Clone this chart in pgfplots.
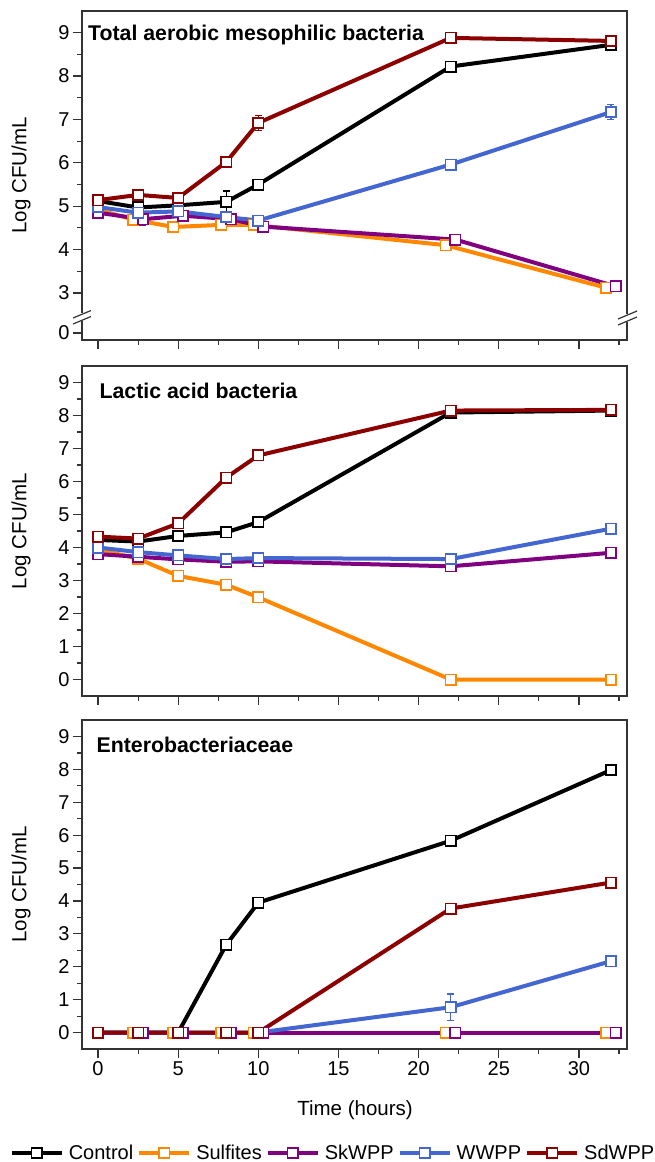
\documentclass[border=0pt]{standalone}
\usepackage{fontspec}
\setmainfont{Liberation Sans}
\usepackage{pgfplots}
\usepackage{pgfplotstable}
\pgfplotsset{compat=1.18}

\definecolor{cCtl}{RGB}{0,0,0}
\definecolor{cSul}{RGB}{255,136,0}
\definecolor{cSk}{RGB}{128,0,128}
\definecolor{cWW}{RGB}{68,102,208}
\definecolor{cSd}{RGB}{140,0,0}

% columns: time, time shifted for Sulfites (xs) and SkWPP (xp), then mean and SD per treatment
\pgfplotstableread{
x    xs    xp    c    ce    s    se    k    ke    w    we    d    de
0    0     0     5.12 0.05  4.92 0.05  4.85 0.05  4.98 0.05  5.14 0.06
2.5  2.2   2.8   4.97 0.10  4.69 0.08  4.70 0.15  4.85 0.10  5.26 0.07
5    4.7   5.3   5.02 0.08  4.52 0.08  4.78 0.07  4.88 0.07  5.19 0.10
8    7.7   8.3   5.10 0.25  4.57 0.06  4.70 0.07  4.75 0.06  6.02 0.07
10   9.7   10.3  5.50 0.06  4.57 0.05  4.53 0.06  4.67 0.05  6.92 0.17
22   21.7  22.3  8.22 0.06  4.10 0.05  4.23 0.07  5.96 0.07  8.88 0.05
32   31.7  32.3  8.72 0.06  3.12 0.05  3.15 0.07  7.17 0.18  8.81 0.06
}\tabTAMB

\pgfplotstableread{
x    xs    xp    c    ce    s    se    k    ke    w    we    d    de
0    0     0     4.23 0.07  3.94 0.06  3.80 0.06  4.00 0.07  4.33 0.07
2.5  2.5   2.5   4.18 0.08  3.66 0.06  3.72 0.07  3.86 0.12  4.27 0.08
5    5     5     4.35 0.07  3.14 0.06  3.64 0.06  3.76 0.10  4.73 0.07
8    8     8     4.46 0.06  2.87 0.07  3.57 0.06  3.65 0.08  6.12 0.06
10   10    10    4.77 0.08  2.49 0.06  3.58 0.07  3.68 0.12  6.79 0.07
22   22    22    8.09 0.06  0    0     3.43 0.07  3.65 0.08  8.15 0.06
32   32    32    8.15 0.06  0    0     3.84 0.07  4.57 0.08  8.17 0.06
}\tabLAB

\pgfplotstableread{
x    xs    xp    c    ce    s    se    k    ke    w    we    d    de
0    0     0     0    0     0    0     0    0     0    0     0    0
2.5  2.2   2.8   0    0     0    0     0    0     0    0     0    0
5    4.7   5.3   0    0     0    0     0    0     0    0     0    0
8    7.7   8.3   2.67 0.10  0    0     0    0     0    0     0    0
10   9.7   10.3  3.95 0.08  0    0     0    0     0    0     0    0
22   21.7  22.3  5.83 0.07  0    0     0    0     0.77 0.40  3.77 0.07
32   31.7  32.3  7.98 0.06  0    0     0    0     2.17 0.10  4.56 0.07
}\tabENT

\tikzset{ttl/.style={anchor=base west, inner sep=0pt, font=\bfseries\fontsize{21.3}{24}\selectfont}}

\pgfplotsset{
  panel/.style={
    scale only axis, width=545pt,
    xmin=-1, xmax=33, clip=false,
    axis line style={line width=1.2pt, draw=black!80},
    every tick/.style={line width=1.2pt, draw=black!80},
    tick align=outside, xtick pos=bottom, ytick pos=left,
    xtick={0,5,...,30}, minor xtick={2.5,7.5,...,32.5},
    major tick length=9pt, minor tick length=5pt,
    tick label style={font=\fontsize{20}{22}\selectfont},
    /pgf/number format/assume math mode=true,
    ylabel={Log CFU/mL},
    ylabel style={font=\fontsize{20.5}{22}\selectfont, at={(axis description cs:-0.112,0.5)}, anchor=center},
    legend image code/.code={\draw[mark repeat=2,mark phase=2,##1] plot coordinates {(0pt,0pt) (25pt,0pt) (50pt,0pt)};},
  },
  ser/.style={color=#1, line width=4pt, mark=square*, mark size=5.2pt,
    mark options={fill=white, draw=#1, line width=1.6pt, solid}},
}

% error bars drawn over the open markers
\newcommand{\ebars}[5]{%
  \addplot[forget plot, draw=none, mark=none, restrict y to domain=0.05:20,
    error bars/.cd, y dir=both, y explicit,
    error bar style={draw=#1, line width=1.2pt, solid},
    error mark options={rotate=90, mark size=3.5pt, draw=#1, line width=1.2pt}]
    table[x=#3, y=#4, y error=#5]{#2};}

\newcommand{\allseries}[1]{%
  \addplot[ser=cCtl] table[x=x,  y=c]{#1}; \ebars{cCtl}{#1}{x}{c}{ce}
  \addplot[ser=cSul] table[x=xs, y=s]{#1}; \ebars{cSul}{#1}{xs}{s}{se}
  \addplot[ser=cSk]  table[x=xp, y=k]{#1}; \ebars{cSk}{#1}{xp}{k}{ke}
  \addplot[ser=cWW]  table[x=x,  y=w]{#1}; \ebars{cWW}{#1}{x}{w}{we}
  \addplot[ser=cSd]  table[x=x,  y=d]{#1}; \ebars{cSd}{#1}{x}{d}{de}
}

\begin{document}
\begin{tikzpicture}[x=1pt,y=1pt]
\path[use as bounding box] (0,0) rectangle (654,-1162);

% Total aerobic mesophilic bacteria (broken y axis: 0 sits just below 3)
\begin{axis}[panel, at={(82pt,-340pt)}, anchor=south west, height=329pt,
  ymin=1.915, ymax=9.5,
  ytick={2.076,3,4,5,6,7,8,9}, yticklabels={0,3,4,5,6,7,8,9},
  minor ytick={3.5,4.5,...,8.5}, xticklabels={}]
  \allseries{\tabTAMB}
  \node[ttl] at (rel axis cs:0.0110,0.910) {Total aerobic mesophilic bacteria};
\end{axis}
% axis break marks
\draw[white, line width=4pt] (82,-313) -- (82,-321);
\draw[black!80, line width=1.2pt] (73,-318) -- (91,-310.5);
\draw[black!80, line width=1.2pt] (73,-324) -- (91,-316.5);
\draw[white, line width=4pt] (627,-314) -- (627,-322);
\draw[black!80, line width=1.2pt] (618,-319) -- (637,-311);
\draw[black!80, line width=1.2pt] (618,-325) -- (637,-317);

% Lactic acid bacteria
\begin{axis}[panel, at={(82pt,-696pt)}, anchor=south west, height=330pt,
  ymin=-0.5, ymax=9.5, ytick={0,...,9}, minor ytick={0.5,1.5,...,8.5},
  xticklabels={}]
  \allseries{\tabLAB}
  \node[ttl] at (rel axis cs:0.032,0.902) {Lactic acid bacteria};
\end{axis}

% Enterobacteriaceae
\begin{axis}[panel, at={(82pt,-1049pt)}, anchor=south west, height=329pt,
  ymin=-0.5, ymax=9.5, ytick={0,...,9}, minor ytick={0.5,1.5,...,8.5},
  xlabel={Time (hours)},
  xlabel style={font=\fontsize{20.5}{22}\selectfont, at={(axis description cs:0.501,-0.185)}, anchor=center},
  legend columns=5,
  legend entries={Control,Sulfites,SkWPP,WWPP,SdWPP},
  legend style={at={(axis description cs:0.4587,-0.316)}, anchor=center,
    draw=none, fill=none, inner sep=0pt, font=\fontsize{20}{22}\selectfont,
    nodes={inner sep=0pt},
    /tikz/every odd column/.style={column sep=5pt},
    /tikz/every even column/.style={column sep=4pt}}]
  \allseries{\tabENT}
  \node[ttl] at (rel axis cs:0.0265,0.902) {Enterobacteriaceae};
\end{axis}
\end{tikzpicture}
\end{document}
